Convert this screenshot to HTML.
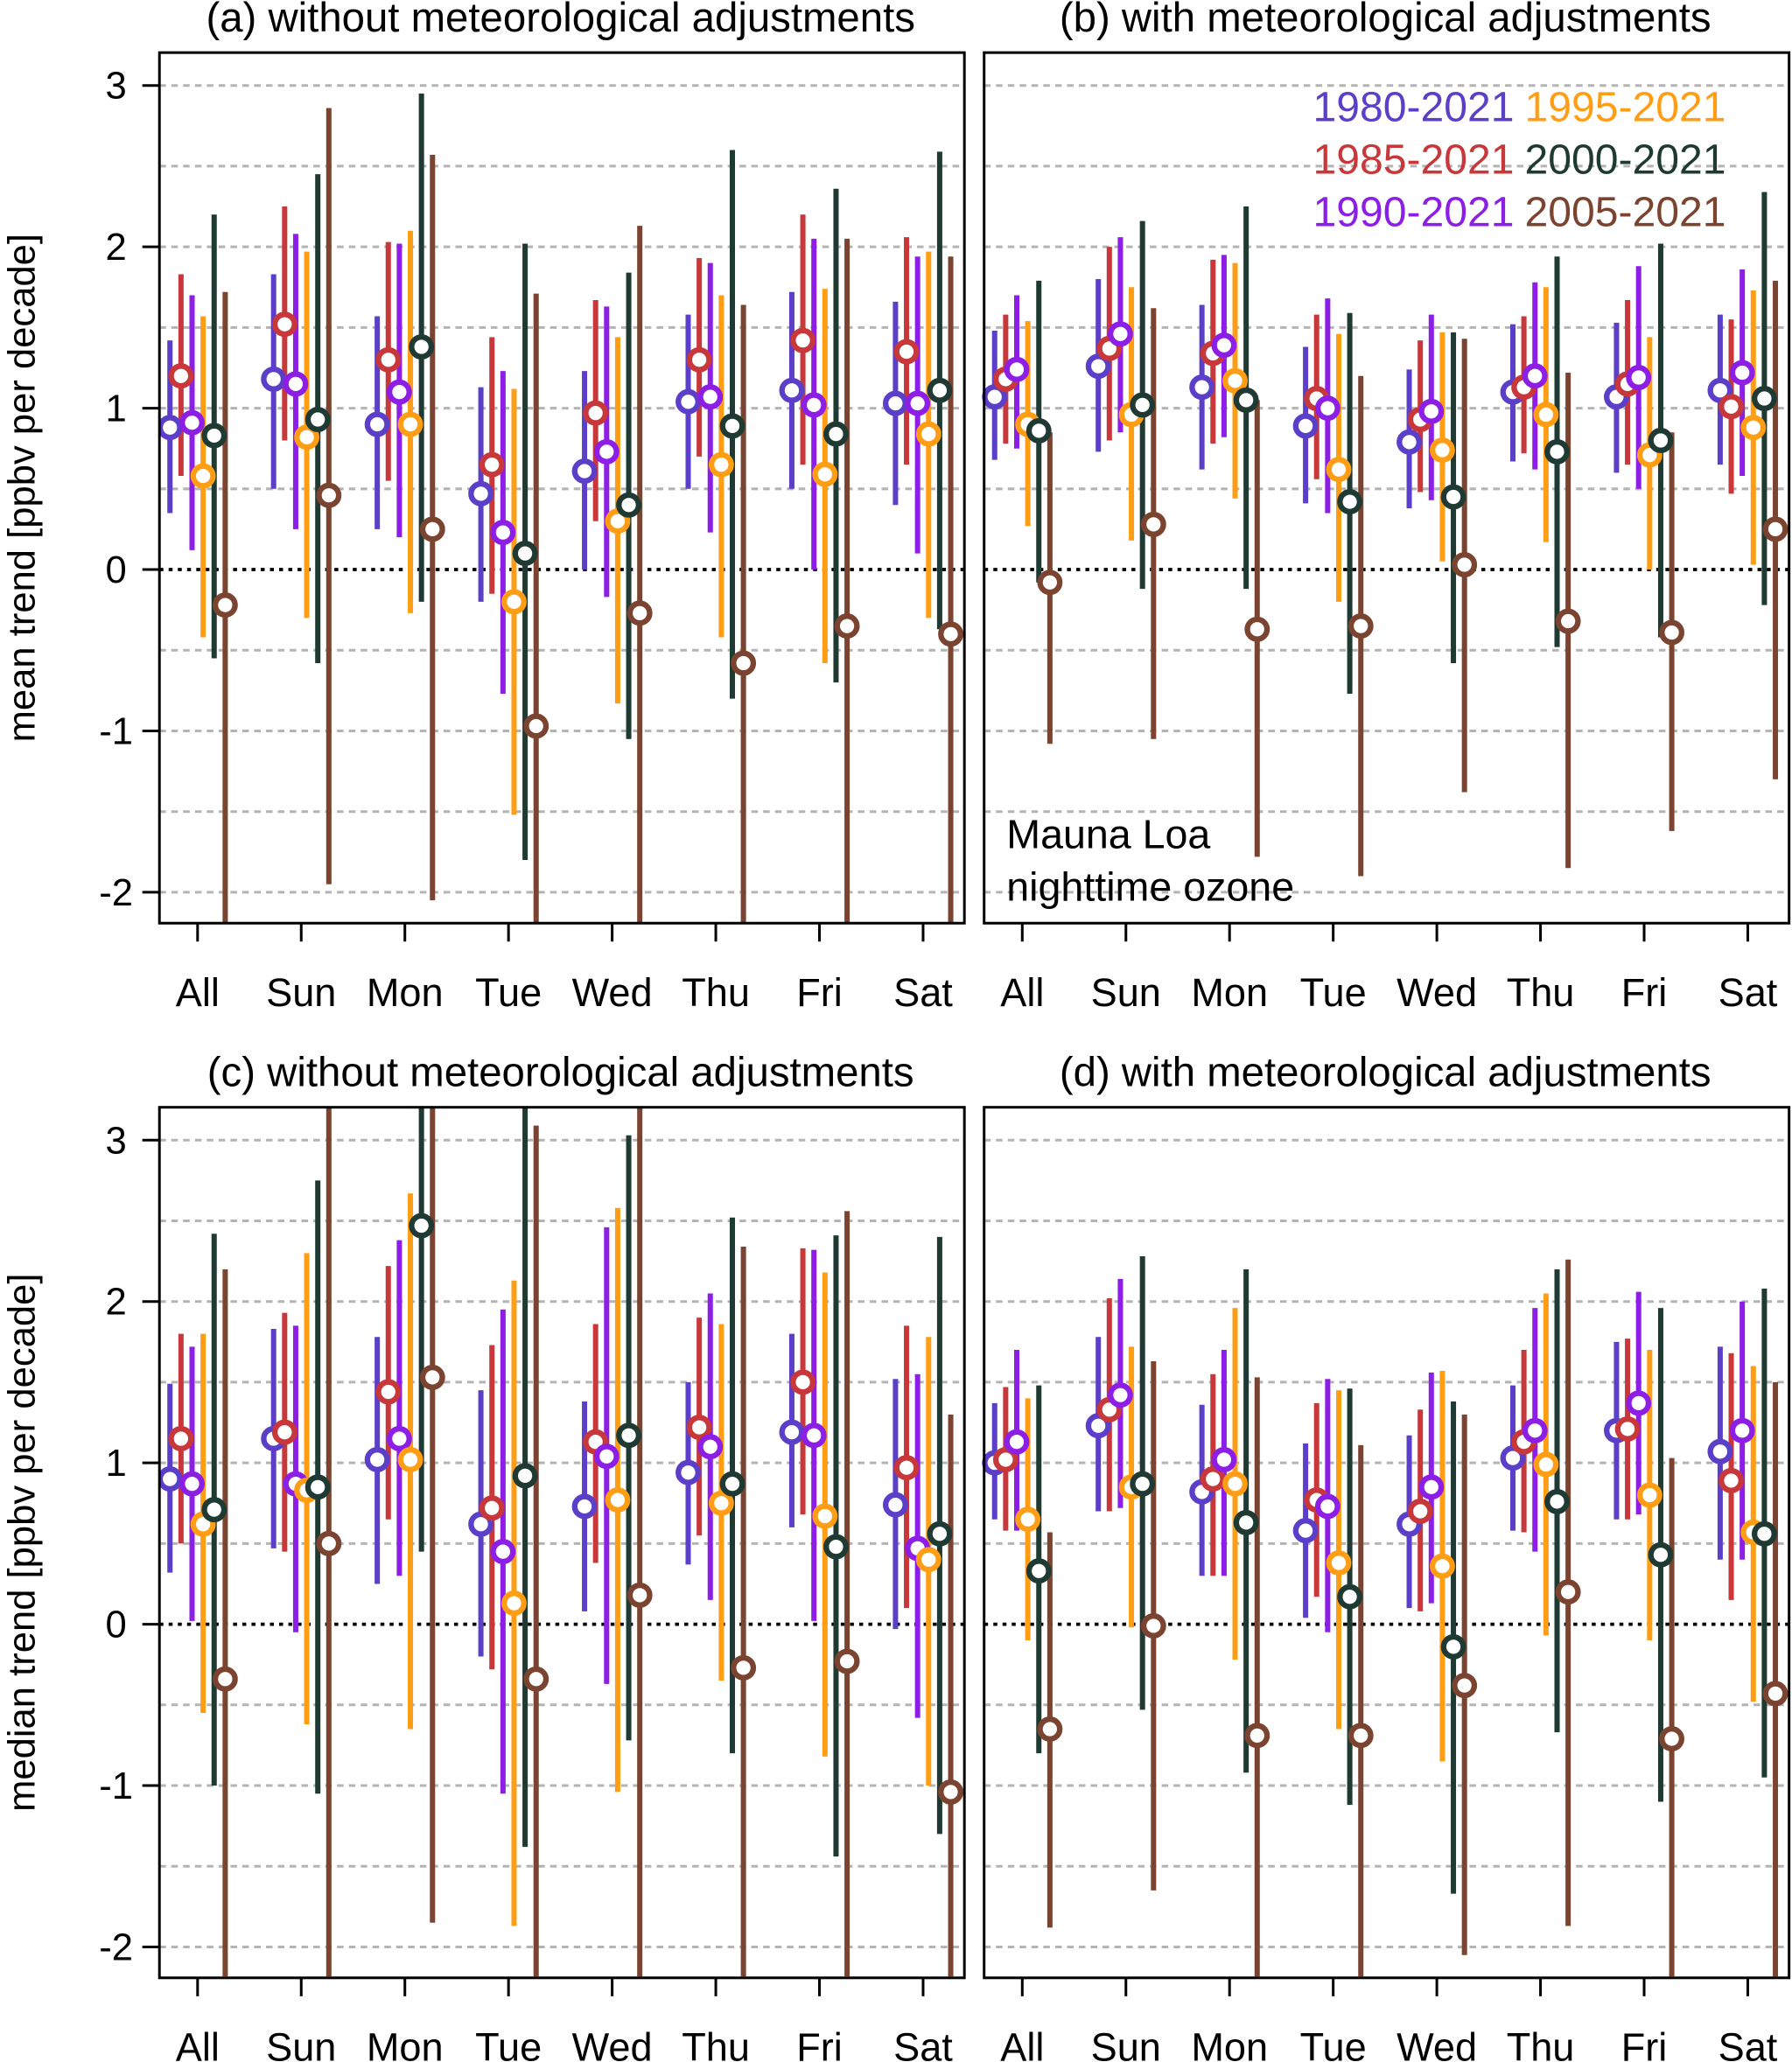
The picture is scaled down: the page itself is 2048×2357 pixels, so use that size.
<!DOCTYPE html>
<html><head><meta charset="utf-8"><style>
html,body{margin:0;padding:0;background:#fff}
svg{display:block}
text{font-family:"Liberation Sans",Arial,sans-serif;fill:#000}
</style></head><body>
<svg id="chart" width="2048" height="2357" viewBox="0 0 1362 1568" xmlns="http://www.w3.org/2000/svg">
<defs>
<clipPath id="clipTop"><rect x="121" y="40" width="1240" height="662"/></clipPath>
<clipPath id="clipBot"><rect x="121" y="842" width="1240" height="661"/></clipPath>
</defs>
<g id="root"></g>
</svg>
<script>
const categories = ["All","Sun","Mon","Tue","Wed","Thu","Fri","Sat"];
const seriesNames = ["1980-2021","1985-2021","1990-2021","1995-2021","2000-2021","2005-2021"];
const seriesColors = ["#5b3fc8","#c8383a","#8c1ee6","#ff9e14","#1f3a33","#7b4430"];
const yTicks = [-2,-1,0,1,2,3];
const gridLevels = [-2,-1.5,-1,-0.5,0.5,1,1.5,2,2.5,3];
// each category: [center, low, high] per series (ppbv per decade)
const panelA = [
 [[0.88,0.35,1.42],[1.2,0.58,1.83],[0.91,0.12,1.7],[0.58,-0.42,1.57],[0.83,-0.55,2.2],[-0.22,-2.3,1.72]],
 [[1.18,0.5,1.83],[1.52,0.8,2.25],[1.15,0.25,2.08],[0.82,-0.3,1.97],[0.93,-0.58,2.45],[0.46,-1.95,2.86]],
 [[0.9,0.25,1.57],[1.3,0.55,2.03],[1.1,0.2,2.02],[0.9,-0.27,2.1],[1.38,-0.2,2.95],[0.25,-2.05,2.57]],
 [[0.47,-0.2,1.13],[0.65,-0.15,1.44],[0.23,-0.77,1.23],[-0.2,-1.52,1.12],[0.1,-1.8,2.02],[-0.97,-2.3,1.71]],
 [[0.61,0,1.23],[0.97,0.3,1.67],[0.73,-0.17,1.63],[0.3,-0.83,1.44],[0.4,-1.05,1.84],[-0.27,-2.3,2.13]],
 [[1.04,0.5,1.58],[1.3,0.7,1.93],[1.07,0.23,1.9],[0.65,-0.42,1.7],[0.89,-0.8,2.6],[-0.58,-2.3,1.64]],
 [[1.11,0.5,1.72],[1.42,0.65,2.2],[1.02,0,2.05],[0.59,-0.58,1.74],[0.84,-0.7,2.36],[-0.35,-2.3,2.05]],
 [[1.03,0.4,1.66],[1.35,0.65,2.06],[1.03,0.1,1.94],[0.84,-0.3,1.97],[1.11,-0.37,2.59],[-0.4,-2.3,1.94]]
];
const panelB = [
 [[1.07,0.68,1.48],[1.18,0.78,1.58],[1.24,0.75,1.7],[0.9,0.27,1.54],[0.86,-0.08,1.79],[-0.08,-1.08,0.85]],
 [[1.26,0.73,1.8],[1.37,0.8,2.0],[1.46,0.85,2.06],[0.96,0.18,1.75],[1.02,-0.12,2.16],[0.28,-1.05,1.62]],
 [[1.13,0.62,1.64],[1.34,0.78,1.92],[1.39,0.82,1.95],[1.17,0.44,1.9],[1.05,-0.12,2.25],[-0.37,-1.78,1.05]],
 [[0.89,0.41,1.38],[1.06,0.56,1.58],[1.0,0.35,1.68],[0.62,-0.2,1.46],[0.42,-0.77,1.59],[-0.35,-1.9,1.2]],
 [[0.79,0.38,1.24],[0.93,0.48,1.42],[0.98,0.43,1.58],[0.74,0.05,1.47],[0.45,-0.58,1.47],[0.03,-1.38,1.43]],
 [[1.1,0.67,1.52],[1.13,0.72,1.57],[1.2,0.62,1.78],[0.96,0.17,1.75],[0.73,-0.48,1.94],[-0.32,-1.85,1.22]],
 [[1.07,0.6,1.53],[1.15,0.65,1.67],[1.19,0.5,1.88],[0.71,0,1.44],[0.8,-0.42,2.02],[-0.39,-1.62,0.85]],
 [[1.11,0.65,1.58],[1.01,0.47,1.55],[1.22,0.58,1.86],[0.88,0.03,1.73],[1.06,-0.22,2.34],[0.25,-1.3,1.79]]
];
const panelC = [
 [[0.9,0.32,1.49],[1.15,0.5,1.8],[0.87,0.02,1.72],[0.62,-0.55,1.8],[0.71,-1.0,2.42],[-0.34,-2.3,2.2]],
 [[1.15,0.47,1.83],[1.19,0.45,1.93],[0.87,-0.05,1.85],[0.83,-0.62,2.3],[0.85,-1.05,2.75],[0.5,-2.3,3.3]],
 [[1.02,0.25,1.78],[1.44,0.65,2.22],[1.15,0.3,2.38],[1.02,-0.65,2.67],[2.47,0.45,3.3],[1.53,-1.85,3.3]],
 [[0.62,-0.2,1.45],[0.72,-0.28,1.73],[0.45,-1.05,1.95],[0.13,-1.87,2.13],[0.92,-1.38,3.3],[-0.34,-2.3,3.09]],
 [[0.73,0.08,1.38],[1.13,0.38,1.86],[1.04,-0.37,2.46],[0.77,-1.04,2.58],[1.17,-0.72,3.03],[0.18,-2.3,3.3]],
 [[0.94,0.37,1.5],[1.22,0.55,1.9],[1.1,0.15,2.05],[0.75,-0.35,1.86],[0.87,-0.8,2.52],[-0.27,-2.3,2.34]],
 [[1.19,0.6,1.8],[1.5,0.68,2.33],[1.17,0.02,2.32],[0.67,-0.82,2.18],[0.48,-1.44,2.41],[-0.23,-2.3,2.56]],
 [[0.74,-0.03,1.52],[0.97,0.1,1.85],[0.47,-0.58,1.55],[0.4,-1.0,1.78],[0.56,-1.3,2.4],[-1.04,-2.3,1.3]]
];
const panelD = [
 [[1.0,0.65,1.37],[1.02,0.58,1.47],[1.13,0.58,1.7],[0.65,-0.1,1.4],[0.33,-0.8,1.48],[-0.65,-1.88,0.57]],
 [[1.23,0.7,1.78],[1.33,0.7,2.02],[1.42,0.72,2.14],[0.85,-0.02,1.72],[0.87,-0.53,2.28],[-0.01,-1.65,1.63]],
 [[0.82,0.3,1.36],[0.9,0.3,1.55],[1.02,0.3,1.7],[0.87,-0.22,1.96],[0.63,-0.92,2.2],[-0.69,-2.3,1.53]],
 [[0.58,0.04,1.12],[0.77,0.17,1.37],[0.73,-0.05,1.52],[0.38,-0.65,1.45],[0.17,-1.12,1.46],[-0.69,-2.3,1.11]],
 [[0.62,0.1,1.17],[0.7,0.08,1.33],[0.85,0.13,1.56],[0.36,-0.85,1.57],[-0.14,-1.67,1.38],[-0.38,-2.05,1.3]],
 [[1.03,0.58,1.48],[1.13,0.57,1.7],[1.2,0.45,1.96],[0.99,-0.07,2.05],[0.76,-0.67,2.2],[0.2,-1.87,2.26]],
 [[1.2,0.65,1.75],[1.21,0.65,1.77],[1.37,0.68,2.06],[0.8,-0.1,1.7],[0.43,-1.1,1.96],[-0.71,-2.3,1.03]],
 [[1.07,0.4,1.72],[0.89,0.15,1.68],[1.2,0.4,2.0],[0.57,-0.48,1.6],[0.56,-0.95,2.08],[-0.43,-2.3,1.5]]
];

const NS = "http://www.w3.org/2000/svg";
const root = document.getElementById("root");
function mk(tag, attrs, parent, txt){
  const e = document.createElementNS(NS, tag);
  for (const k in attrs) e.setAttribute(k, attrs[k]);
  if (txt !== undefined) e.textContent = txt;
  (parent || root).appendChild(e);
  return e;
}
const PW = 612, PX = [121, 748], PY = [40, 842], PH = 662;
const UNIT = 122.7;
const catStep = 78.8, catStart = 29;
const offsets = [-21,-12.6,-4.2,4.2,12.6,21];
function yScale(py0, v){ return py0 + 25 + (3 - v) * UNIT; }
function xScale(px0, i){ return px0 + catStart + i * catStep; }

function drawPanel(px0, py0, data, title, clipId, pname){
  const g = mk("g", {});
  
  
  gridLevels.forEach(v => {
    const l = mk("line", {x1:px0, x2:px0+PW, y1:yScale(py0,v), y2:yScale(py0,v), stroke:"#b4b4b4", "stroke-width":2, "stroke-dasharray":"5,4"}, g);
    
    
  });
  const z = mk("line", {x1:px0, x2:px0+PW, y1:yScale(py0,0), y2:yScale(py0,0), stroke:"#000", "stroke-width":2.5, "stroke-dasharray":"3,4"}, g);
  
  
  const marks = mk("g", {"clip-path":"url(#"+clipId+")"}, g);
  data.forEach((cat, i) => {
    cat.forEach((d, s) => {
      const x = xScale(px0, i) + offsets[s];
      const bar = mk("line", {x1:x, x2:x, y1:yScale(py0,d[1]), y2:yScale(py0,d[2]), stroke:seriesColors[s], "stroke-width":4}, marks);
      
      
    });
    cat.forEach((d, s) => {
      const x = xScale(px0, i) + offsets[s];
      const c = mk("circle", {cx:x, cy:yScale(py0,d[0]), r:7.5, fill:"#fff", stroke:seriesColors[s], "stroke-width":4.2}, marks);
      
      
    });
  });
  const frame = mk("rect", {x:px0, y:py0, width:PW, height:PH, fill:"none", stroke:"#000", "stroke-width":2}, g);
  
  
  categories.forEach((c, i) => {
    const x = xScale(px0, i);
    const t = mk("line", {x1:x, x2:x, y1:py0+PH, y2:py0+PH+14, stroke:"#000", "stroke-width":2}, g);
    
    
    const lb = mk("text", {x:x, y:py0+PH+63, "text-anchor":"middle", "font-size":30}, g, c);
    
    
  });
  const tt = mk("text", {x:px0+PW/2 - 1, y:py0-16, "text-anchor":"middle", "font-size":31.5}, g, title);
  
  
}
function drawYAxis(py0, label){
  yTicks.forEach(v => {
    const y = yScale(py0, v);
    const t = mk("line", {x1:108, x2:121, y1:y, y2:y, stroke:"#000", "stroke-width":2});
    
    
    const lb = mk("text", {x:88, y:y+10, "text-anchor":"middle", "font-size":29}, root, String(v));
    
    
  });
  const at = mk("text", {x:0, y:0, transform:"translate(26,"+(py0+PH/2)+") rotate(-90)", "text-anchor":"middle", "font-size":29}, root, label);
  
  
}
drawPanel(PX[0], PY[0], panelA, "(a) without meteorological adjustments", "clipTop", "panel-a");
drawPanel(PX[1], PY[0], panelB, "(b) with meteorological adjustments", "clipTop", "panel-b");
drawPanel(PX[0], PY[1], panelC, "(c) without meteorological adjustments", "clipBot", "panel-c");
drawPanel(PX[1], PY[1], panelD, "(d) with meteorological adjustments", "clipBot", "panel-d");
drawYAxis(PY[0], "mean trend [ppbv per decade]");
drawYAxis(PY[1], "median trend [ppbv per decade]");
const legendPos = [[1151,92,"end"],[1151,132,"end"],[1151,172,"end"],[1159,92,"start"],[1159,132,"start"],[1159,172,"start"]];
const legendOrder = [0,1,2,3,4,5];
legendOrder.forEach((s, k) => {
  const p = legendPos[k];
  const t = mk("text", {x:p[0], y:p[1], "text-anchor":p[2], "font-size":32, style:"fill:"+seriesColors[s]}, root, seriesNames[s]);
  
  
});
const n1 = mk("text", {x:765, y:645, "font-size":31}, root, "Mauna Loa");


const n2 = mk("text", {x:765, y:685, "font-size":31}, root, "nighttime ozone");


</script>
</body></html>
